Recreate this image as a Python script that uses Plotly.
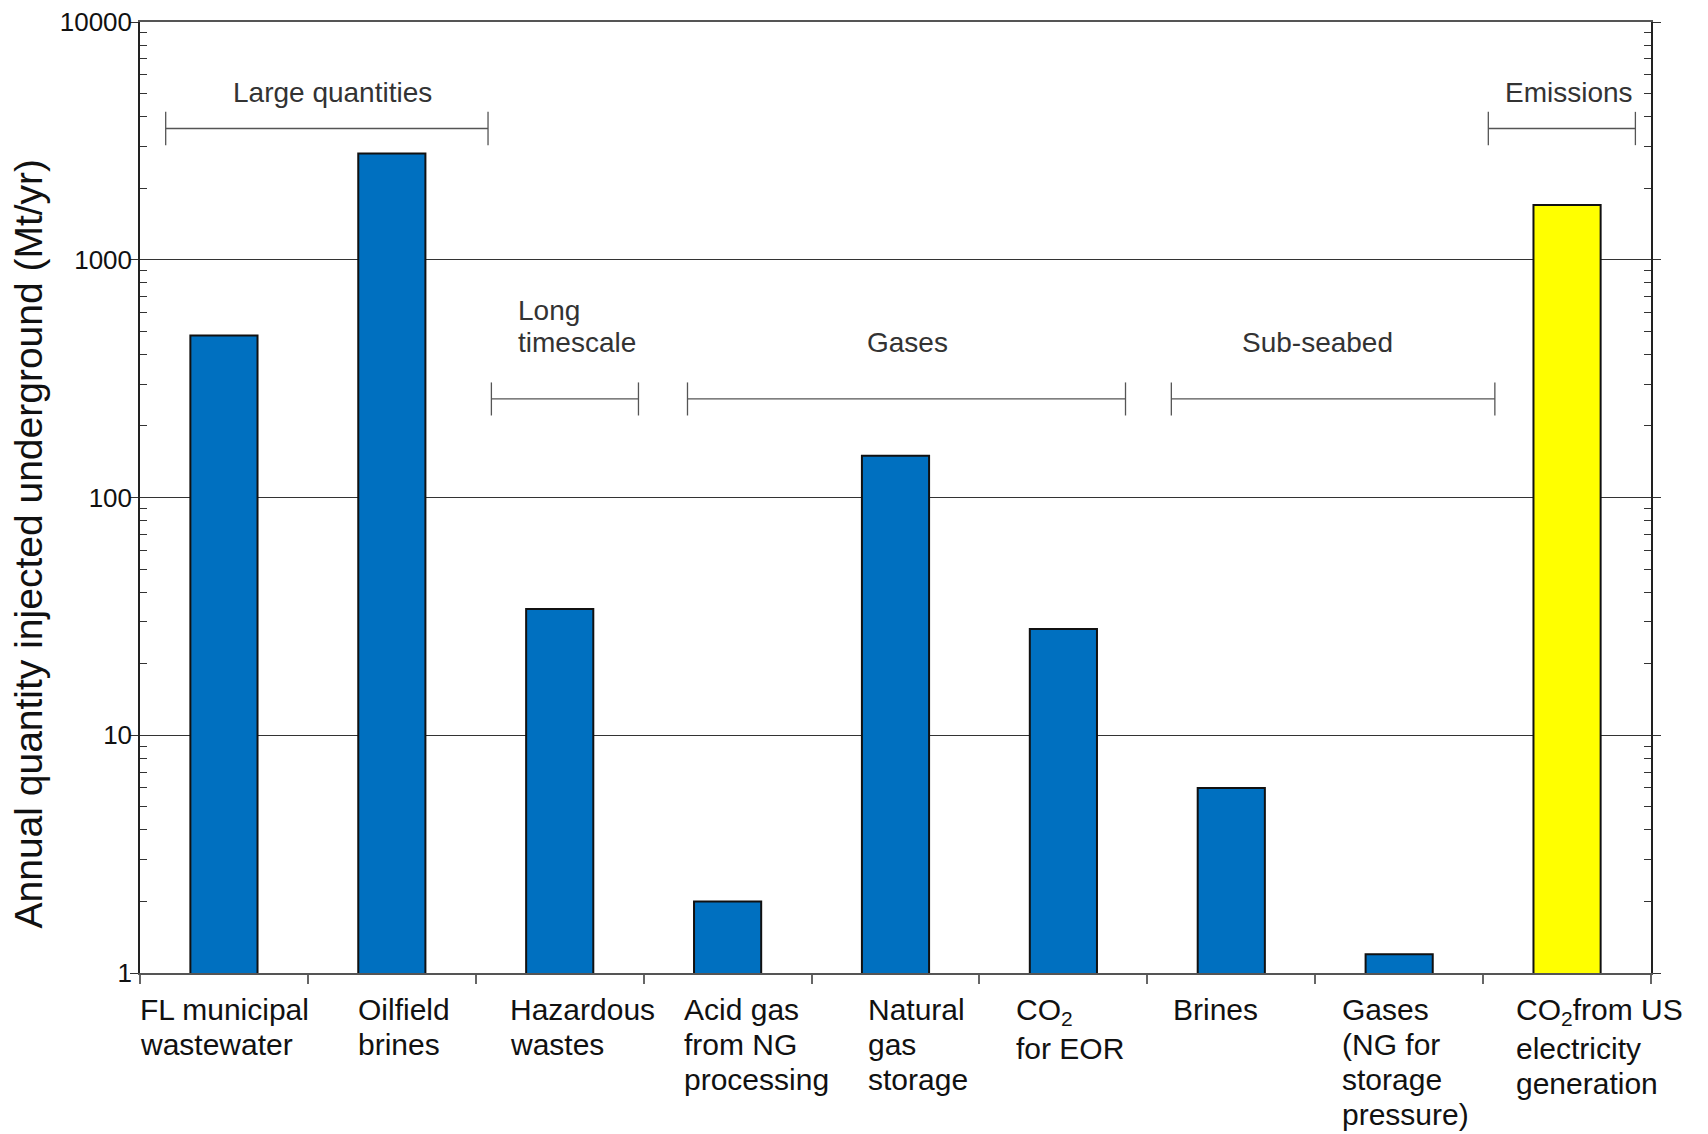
import plotly.graph_objects as go

# Annual quantity injected underground, Mt/yr
categories = [
    "FL municipal wastewater",
    "Oilfield brines",
    "Hazardous wastes",
    "Acid gas from NG processing",
    "Natural gas storage",
    "CO2 for EOR",
    "Brines",
    "Gases (NG for storage pressure)",
    "CO2 from US electricity generation",
]
injected_mt_per_yr = [480, 2800, 34, 2, 150, 28, 6, 1.2, 1700]

# Multi-line category labels drawn under the axis
label_lines = [
    ["FL municipal", "wastewater"],
    ["Oilfield", "brines"],
    ["Hazardous", "wastes"],
    ["Acid gas", "from NG", "processing"],
    ["Natural", "gas", "storage"],
    ["CO<sub>2</sub>", "for EOR"],
    ["Brines"],
    ["Gases", "(NG for", "storage", "pressure)"],
    ["CO<sub>2</sub>from US", "electricity", "generation"],
]

y_tick_values = [1, 10, 100, 1000, 10000]
y_tick_labels = ["1", "10", "100", "1000", "10000"]

# Group brackets: label and span in category units
group_names = ["Large quantities", "Long timescale", "Gases", "Sub-seabed", "Emissions"]
group_spans = [(-0.347, 1.573), (1.593, 2.469), (2.761, 5.370), (5.643, 7.570), (7.531, 8.407)]

BLUE = "#0070C0"
YELLOW = "#FFFF00"
bar_colors = [BLUE] * 8 + [YELLOW]

FONT = "Liberation Sans, Arial, sans-serif"
n_cat = len(categories)

fig = go.Figure()
fig.add_trace(go.Bar(
    x=categories,
    y=injected_mt_per_yr,
    marker=dict(color=bar_colors, line=dict(color="#111111", width=2)),
    hoverinfo="x+y",
))

annotations = []
shapes = []

# Category labels, one annotation per line (left-aligned blocks)
label_dx = [-0.512, -0.213, -0.31, -0.271, -0.175, -0.293, -0.358, -0.351, -0.314]
line_gap = 35
for i, lines in enumerate(label_lines):
    shift = 18
    x_paper = (i + 0.5 + label_dx[i]) / n_cat
    for line in lines:
        annotations.append(dict(
            x=x_paper, xref="paper", y=0, yref="paper",
            xanchor="left", yanchor="top", yshift=-shift,
            text=line, showarrow=False, align="left",
            font=dict(family=FONT, size=30, color="#111111"),
        ))
        shift += line_gap + (4 if "<sub>" in line else 0)

# Group brackets (values in Mt/yr on the log axis)
upper = {"y": 10 ** 3.552, "lo": 10 ** 3.482, "hi": 10 ** 3.622}
lower = {"y": 10 ** 2.415, "lo": 10 ** 2.345, "hi": 10 ** 2.484}
bracket_levels = [upper, lower, lower, lower, upper]
for (x0, x1), lvl in zip(group_spans, bracket_levels):
    line_style = dict(color="#555555", width=1.3)
    shapes.append(dict(type="line", xref="x", yref="y", x0=x0, x1=x1,
                       y0=lvl["y"], y1=lvl["y"], line=line_style))
    for xe in (x0, x1):
        shapes.append(dict(type="line", xref="x", yref="y", x0=xe, x1=xe,
                           y0=lvl["lo"], y1=lvl["hi"], line=line_style))

group_font = dict(family=FONT, size=28, color="#333333")
annotations += [
    dict(x=0.645, y=3.702, xref="x", yref="y", text=group_names[0],
         showarrow=False, xanchor="center", yanchor="middle", font=group_font),
    dict(x=1.742, y=2.786, xref="x", yref="y", text="Long",
         showarrow=False, xanchor="left", yanchor="middle", font=group_font),
    dict(x=1.742, y=2.653, xref="x", yref="y", text="timescale",
         showarrow=False, xanchor="left", yanchor="middle", font=group_font),
    dict(x=4.072, y=2.653, xref="x", yref="y", text=group_names[2],
         showarrow=False, xanchor="center", yanchor="middle", font=group_font),
    dict(x=6.512, y=2.653, xref="x", yref="y", text=group_names[3],
         showarrow=False, xanchor="center", yanchor="middle", font=group_font),
    dict(x=8.011, y=3.702, xref="x", yref="y", text=group_names[4],
         showarrow=False, xanchor="center", yanchor="middle", font=group_font),
]

# Y-axis title
annotations.append(dict(
    x=-0.0736, y=0.4514, xref="paper", yref="paper",
    text="Annual quantity injected underground (Mt/yr)",
    textangle=-90, showarrow=False, xanchor="center", yanchor="middle",
    font=dict(family=FONT, size=39, color="#111111"),
))

minor_vals = [m * 10 ** e for e in range(4) for m in range(2, 10)]

fig.update_layout(
    width=1708, height=1134,
    margin=dict(l=140, r=57, t=22, b=161, autoexpand=False),
    paper_bgcolor="white", plot_bgcolor="white",
    showlegend=False,
    bargap=0.6,
    font=dict(family=FONT, color="#111111"),
    xaxis=dict(
        type="category", range=[-0.5, 8.5], automargin=False,
        tickson="boundaries", ticks="outside", ticklen=9,
        tickcolor="#666666", tickwidth=1.5,
        showticklabels=False, showgrid=False,
        showline=True, linecolor="#555555", linewidth=1.5, mirror=True,
        fixedrange=True,
    ),
    yaxis=dict(
        type="log", range=[0, 4], automargin=False,
        tickmode="array", tickvals=y_tick_values, ticktext=y_tick_labels,
        ticks="outside", ticklen=8, tickcolor="#333333", tickwidth=1.3,
        ticklabelstandoff=-7,
        tickfont=dict(family=FONT, size=26, color="#111111"),
        showgrid=True, gridcolor="#333333", gridwidth=1,
        showline=True, linecolor="#222222", linewidth=1.5, mirror="allticks",
        minor=dict(tickmode="array", tickvals=minor_vals, ticks="inside",
                   ticklen=7, tickcolor="#333333", tickwidth=1.2, showgrid=False),
        zeroline=False, fixedrange=True,
    ),
    annotations=annotations,
    shapes=shapes,
)

fig.write_html("out.html")
